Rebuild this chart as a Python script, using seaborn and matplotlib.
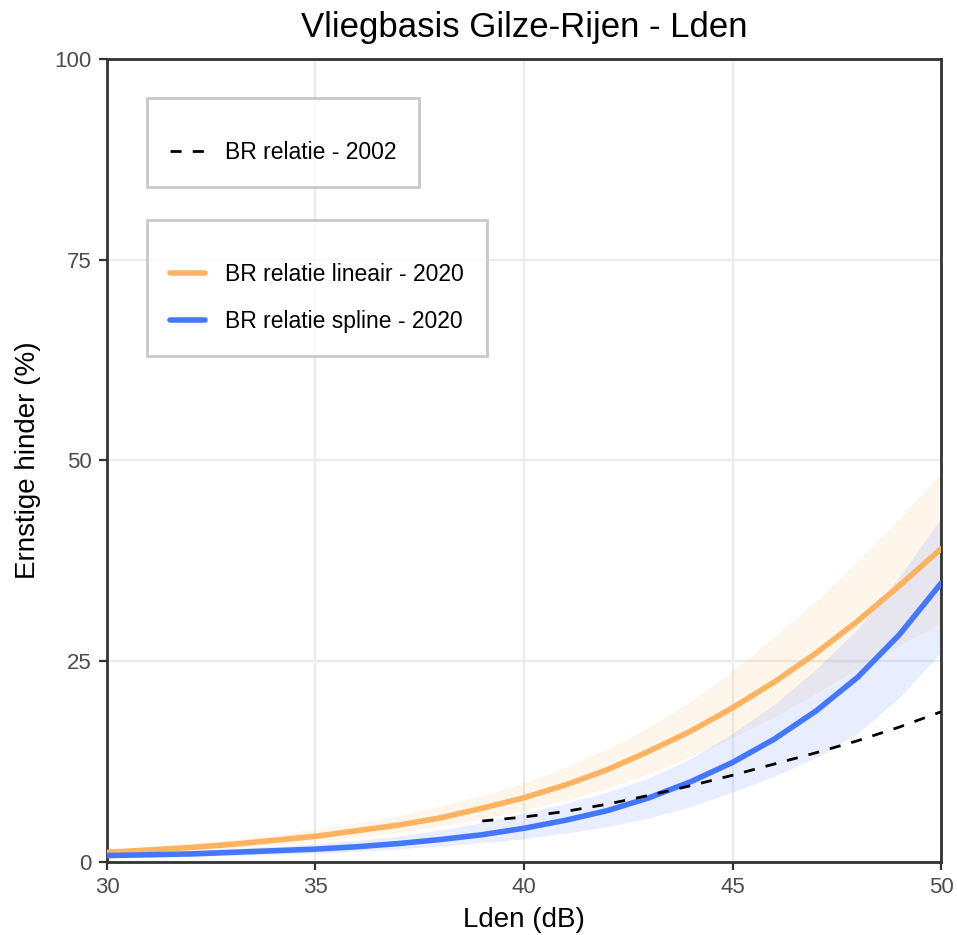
import numpy as np
import pandas as pd
import matplotlib
matplotlib.use("Agg")
import matplotlib.pyplot as plt
import seaborn as sns
from matplotlib.lines import Line2D

# Lden (dB)
lden = list(range(30, 51))

# BR relatie lineair - 2020 (met betrouwbaarheidsband)
lin_mid = [1.2, 1.5, 1.8, 2.2, 2.7, 3.2, 3.9, 4.6, 5.5, 6.7, 8.0,
           9.6, 11.5, 13.8, 16.3, 19.2, 22.4, 26.0, 30.0, 34.4, 39.0]
lin_lo = [0.9, 1.1, 1.4, 1.7, 2.1, 2.6, 3.1, 3.7, 4.5, 5.4, 6.4,
          7.7, 9.2, 11.0, 13.1, 15.5, 18.1, 21.0, 24.1, 27.0, 29.8]
lin_hi = [1.6, 1.9, 2.3, 2.8, 3.4, 4.1, 4.9, 5.8, 7.0, 8.3, 9.8,
          11.8, 14.1, 16.8, 20.0, 23.8, 28.0, 32.5, 37.5, 42.8, 48.4]

# BR relatie spline - 2020
spl_mid = [0.8, 0.9, 1.0, 1.2, 1.4, 1.6, 1.9, 2.3, 2.8, 3.4, 4.2,
           5.2, 6.4, 8.0, 10.0, 12.4, 15.3, 18.8, 23.0, 28.3, 34.7]
spl_lo = [0.5, 0.6, 0.7, 0.8, 0.95, 1.1, 1.35, 1.6, 2.0, 2.4, 2.9,
          3.6, 4.4, 5.5, 6.9, 8.7, 10.7, 13.0, 16.0, 20.5, 26.1]
spl_hi = [1.1, 1.25, 1.45, 1.7, 1.95, 2.25, 2.7, 3.2, 4.0, 4.9, 6.1,
          7.3, 8.7, 10.5, 12.9, 16.0, 19.6, 24.0, 29.0, 35.5, 42.8]

# BR relatie - 2002
lden_2002 = [39, 40, 41, 42, 43, 44, 45, 46, 47, 48, 49, 50]
br_2002 = [5.1, 5.6, 6.3, 7.2, 8.3, 9.5, 10.8, 12.2, 13.6, 15.1, 16.8, 18.7]

orange = "#FDB35F"
blue = "#4477FF"

df = pd.concat([
    pd.DataFrame({"lden": lden, "hinder": lin_mid, "model": "lineair"}),
    pd.DataFrame({"lden": lden, "hinder": spl_mid, "model": "spline"}),
])
df02 = pd.DataFrame({"lden": lden_2002, "hinder": br_2002})

sns.set_theme(style="white")
plt.rcParams["font.family"] = ["Liberation Sans", "DejaVu Sans"]
plt.rcParams["text.color"] = "black"
plt.rcParams["axes.labelcolor"] = "black"

fig = plt.figure(figsize=(9.57, 9.35), dpi=100)
ax = fig.add_axes([0.1118, 0.0781, 0.8715, 0.8588])

ax.fill_between(lden, lin_lo, lin_hi, color=orange, alpha=0.12, lw=0)
ax.fill_between(lden, spl_lo, spl_hi, color=blue, alpha=0.12, lw=0)

sns.lineplot(data=df, x="lden", y="hinder", hue="model",
             palette={"lineair": orange, "spline": blue},
             lw=4, legend=False, ax=ax, zorder=3)
sns.lineplot(data=df02, x="lden", y="hinder", color="black", lw=2,
             dashes=False, ax=ax, zorder=4)
ax.lines[-1].set_dashes([4, 4])

ax.set_xlim(30, 50)
ax.set_ylim(0, 100)
ax.set_xticks([30, 35, 40, 45, 50])
ax.set_yticks([0, 25, 50, 75, 100])
ax.grid(True, color="#EBEBEB", lw=1.6)
ax.set_axisbelow(True)
for s in ax.spines.values():
    s.set_color("#333333")
    s.set_linewidth(2)
ax.tick_params(axis="both", which="major", length=6, width=1.6, color="#333333",
               labelsize=16, labelcolor="#4D4D4D", pad=5, direction="out",
               bottom=True, left=True)

ax.set_xlabel("Lden (dB)", fontsize=20, labelpad=6)
ax.set_ylabel("Ernstige hinder (%)", fontsize=20, labelpad=10)
ax.set_title("Vliegbasis Gilze-Rijen - Lden", fontsize=25, pad=16, color="black")

leg_kw = dict(title=" ", loc="upper left", fontsize=16.5, title_fontsize=7,
              frameon=True, fancybox=False, edgecolor="#BBBBBB",
              handlelength=1.55, handletextpad=0.85,
              borderpad=1.0, labelspacing=1.05, borderaxespad=0)

h1 = [Line2D([], [], color="black", lw=2, dashes=[4, 4])]
leg1 = ax.legend(h1, ["BR relatie - 2002"], bbox_to_anchor=(0.048, 0.951), **leg_kw)
leg1.get_frame().set_linewidth(2)
leg1._legend_box.sep = 7
ax.add_artist(leg1)

h2 = [Line2D([], [], color=orange, lw=4), Line2D([], [], color=blue, lw=4)]
leg2 = ax.legend(h2, ["BR relatie lineair - 2020", "BR relatie spline - 2020"],
                 bbox_to_anchor=(0.048, 0.7995), **leg_kw)
leg2.get_frame().set_linewidth(2)
leg2._legend_box.sep = 7

fig.savefig("out.png", dpi=100)
